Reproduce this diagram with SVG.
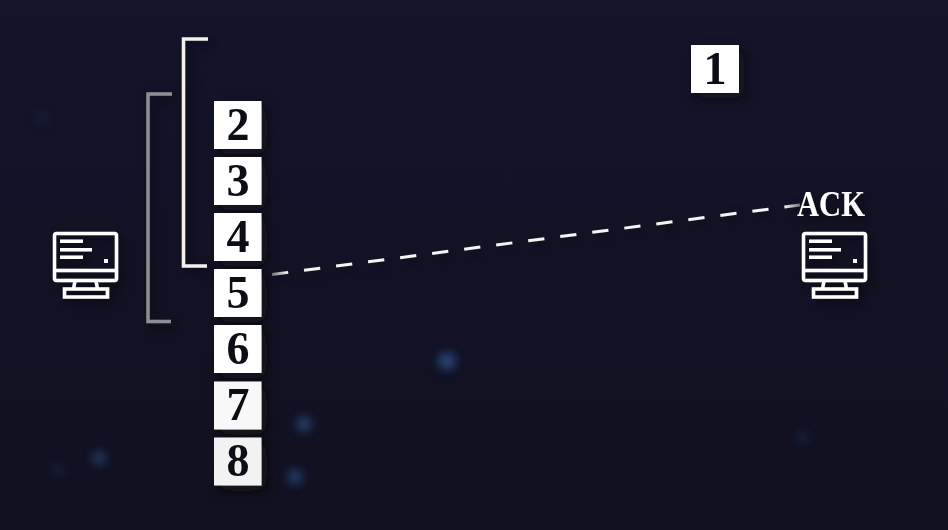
<svg xmlns="http://www.w3.org/2000/svg" width="948" height="530" viewBox="0 0 948 530">
<style>
.box{fill:#fff}
.num{font-family:"Liberation Serif","Times New Roman",serif;font-weight:700;font-size:46px;fill:#0a0a12;text-anchor:middle}
.ack{font-family:"Liberation Serif","Times New Roman",serif;font-weight:700;font-size:35px;fill:#fff}
.icon{fill:none;stroke:#fff;stroke-width:3.500}
.bar{fill:#fff}
.spark{fill:#2f5f9e}
</style>
<defs>
<linearGradient id="bg" x1="0" y1="0" x2="0" y2="1">
<stop offset="0" stop-color="#14142a"/>
<stop offset="0.5" stop-color="#131326"/>
<stop offset="1" stop-color="#111120"/>
</linearGradient>
<linearGradient id="dash" gradientUnits="userSpaceOnUse" x1="272" y1="0" x2="800" y2="0">
<stop offset="0" stop-color="#77777c"/>
<stop offset="0.03" stop-color="#f4f4f4"/>
<stop offset="0.97" stop-color="#f4f4f4"/>
<stop offset="1" stop-color="#77777c"/>
</linearGradient>
<filter id="blur" x="-100%" y="-100%" width="300%" height="300%"><feGaussianBlur stdDeviation="5"/></filter>
<filter id="shadow" x="-30%" y="-30%" width="170%" height="170%"><feDropShadow dx="5" dy="5" stdDeviation="6" flood-color="#08080f" flood-opacity="0.7"/></filter>
<g id="monitor">
<rect class="icon" x="54.500" y="233.500" width="62" height="47" rx="2"/>
<path class="icon" d="M54 270.500H117M75 281L73.500 289M96 281L97.500 289"/>
<rect class="icon" x="64.500" y="289" width="43" height="8"/>
<rect class="bar" x="60" y="239.500" width="23" height="3.500"/>
<rect class="bar" x="60" y="248" width="32" height="3.500"/>
<rect class="bar" x="60" y="255.500" width="23" height="3.500"/>
<rect class="bar" x="104" y="259" width="4" height="4"/>
</g>
</defs>
<rect width="948" height="530" fill="url(#bg)"/>
<g id="sparks" filter="url(#blur)">
<circle class="spark" cx="447" cy="361" r="9" opacity="0.65"/>
<circle class="spark" cx="304" cy="424" r="8" opacity="0.55"/>
<circle class="spark" cx="295" cy="477" r="8" opacity="0.5"/>
<circle class="spark" cx="99" cy="458" r="7" opacity="0.5"/>
<circle class="spark" cx="58" cy="470" r="7" opacity="0.15"/>
<circle class="spark" cx="803" cy="437" r="6" opacity="0.2"/>
<circle class="spark" cx="42" cy="118" r="7" opacity="0.1"/>
</g>
<g id="connectors" filter="url(#shadow)">
<path d="M272 274.500L800 205" fill="none" stroke="url(#dash)" stroke-width="3" stroke-dasharray="16.300 16"/>
</g>
<g id="bracket-white" filter="url(#shadow)"><path d="M208 39H183.500V266H207" fill="none" stroke="#f4f0ee" stroke-width="3.500"/></g>
<g id="bracket-grey" filter="url(#shadow)"><path d="M172 94H148V321.500H171" fill="none" stroke="#8f8f93" stroke-width="3.500"/></g>
<g id="pc-left" filter="url(#shadow)"><use href="#monitor"/></g>
<g id="pc-right" filter="url(#shadow)"><use href="#monitor" x="749"/></g>
<g id="ack" filter="url(#shadow)"><text class="ack" x="797" y="216" textLength="68" lengthAdjust="spacingAndGlyphs">ACK</text></g>
<g id="packet-1" filter="url(#shadow)"><rect class="box" x="691" y="45" width="48" height="48"/><text class="num" x="715" y="84">1</text></g>
<g id="packet-2" filter="url(#shadow)"><rect class="box" x="214" y="101" width="47.500" height="48"/><text class="num" x="238" y="140">2</text></g>
<g id="packet-3" filter="url(#shadow)"><rect class="box" x="214" y="157" width="47.500" height="48"/><text class="num" x="238" y="196">3</text></g>
<g id="packet-4" filter="url(#shadow)"><rect class="box" x="214" y="213" width="47.500" height="48"/><text class="num" x="238" y="252">4</text></g>
<g id="packet-5" filter="url(#shadow)"><rect class="box" x="214" y="269" width="47.500" height="48"/><text class="num" x="238" y="308">5</text></g>
<g id="packet-6" filter="url(#shadow)"><rect class="box" x="214" y="325" width="47.500" height="48"/><text class="num" x="238" y="364">6</text></g>
<g id="packet-7" filter="url(#shadow)"><rect class="box" x="214" y="381.500" width="47.500" height="48" style="fill:#f8f8f8"/><text class="num" x="238" y="420">7</text></g>
<g id="packet-8" filter="url(#shadow)"><rect class="box" x="214" y="437.500" width="47.500" height="48" style="fill:#f2f2f2"/><text class="num" x="238" y="476">8</text></g>
</svg>
